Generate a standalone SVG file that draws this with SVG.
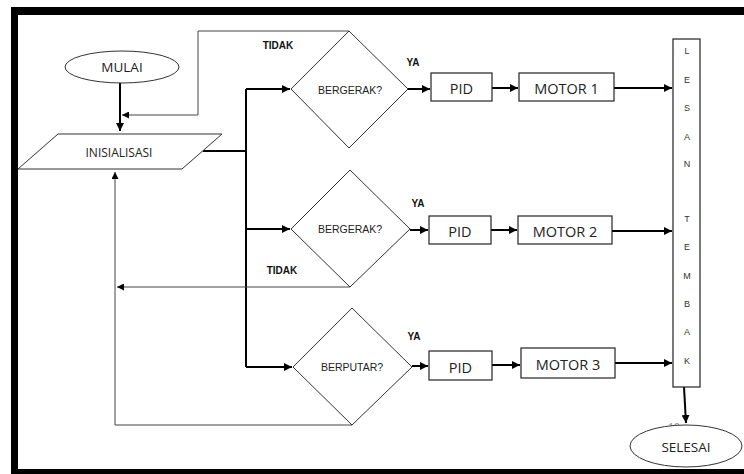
<svg xmlns="http://www.w3.org/2000/svg" width="744" height="474" viewBox="0 0 744 474">
<style>
.bg{fill:#fff}
.frame{fill:#000}
.shape{fill:#fff;stroke:#333;stroke-width:1}
.box{fill:#fff;stroke:#222;stroke-width:1.2}
.thin{fill:none;stroke:#444;stroke-width:1}
.thick{fill:none;stroke:#000;stroke-width:2}
.t{font-family:"Open Sans","Liberation Sans",sans-serif;fill:#222;text-anchor:middle;dominant-baseline:central}
.big{font-size:13.5px}
.box-t{font-size:14.5px}
.mid{font-size:12px}
.dia{font-family:"Liberation Sans",Arial,sans-serif;font-size:10.5px;fill:#222;text-anchor:middle;dominant-baseline:central}
.lbl{font-family:"Liberation Sans",Arial,sans-serif;font-size:10px;font-weight:bold;fill:#111;text-anchor:middle;dominant-baseline:central}
.let{font-family:"Liberation Sans",Arial,sans-serif;font-size:9px;fill:#333;text-anchor:middle;dominant-baseline:central}
</style>
<defs>
<marker id="ah" viewBox="0 0 10 10" refX="10" refY="5" markerWidth="4" markerHeight="4" orient="auto" markerUnits="strokeWidth">
<path d="M0,0 L10,5 L0,10 z" fill="#000"/>
</marker>
<marker id="ahs" viewBox="0 0 10 10" refX="10" refY="5" markerWidth="7" markerHeight="7" orient="auto" markerUnits="strokeWidth">
<path d="M0,0 L10,5 L0,10 z" fill="#000"/>
</marker>
</defs>
<rect class="bg" x="0" y="0" width="744" height="474"/>
<g id="frame">
<rect class="frame" x="11" y="7" width="733" height="8"/>
<rect class="frame" x="11" y="7" width="7" height="467"/>
<rect class="frame" x="11" y="469" width="733" height="5"/>
</g>
<g id="connectors">
<path class="thick" d="M120,83 V131" marker-end="url(#ah)"/>
<path class="thin" d="M349,31 H198 V115 H122" marker-end="url(#ahs)"/>
<path class="thick" d="M203,151 H246 M246,89 V367"/>
<path class="thick" d="M246,89 H290" marker-end="url(#ah)"/>
<path class="thick" d="M246,229 H290" marker-end="url(#ah)"/>
<path class="thick" d="M246,367 H292" marker-end="url(#ah)"/>
<path class="thin" d="M350,287 H117" marker-end="url(#ahs)"/>
<path class="thin" d="M352,425 H115 V172" marker-end="url(#ahs)"/>
<path class="thick" d="M408,89 H430" marker-end="url(#ah)"/>
<path class="thick" d="M410,230 H428" marker-end="url(#ah)"/>
<path class="thick" d="M412,366 H428" marker-end="url(#ah)"/>
<path class="thick" d="M492,88 H518" marker-end="url(#ah)"/>
<path class="thick" d="M491,230 H517" marker-end="url(#ah)"/>
<path class="thick" d="M492,365 H520" marker-end="url(#ah)"/>
<path class="thick" d="M614,88 H672" marker-end="url(#ah)"/>
<path class="thick" d="M612,231 H672" marker-end="url(#ah)"/>
<path class="thick" d="M615,363 H672" marker-end="url(#ah)"/>
<path class="thick" d="M684,387 L686,423" marker-end="url(#ah)"/>
<text class="lbl" x="278" y="45">TIDAK</text>
<text class="lbl" x="282" y="270">TIDAK</text>
<text class="lbl" x="413" y="62">YA</text>
<text class="lbl" x="418" y="203">YA</text>
<text class="lbl" x="414" y="336">YA</text>
</g>
<g id="mulai">
<ellipse class="shape" cx="122" cy="67" rx="57" ry="16"/>
<text class="t big" x="122" y="67">MULAI</text>
</g>
<g id="inisialisasi">
<polygon class="shape" points="58,134 222,134 182,169 18,169"/>
<text class="t mid" x="119" y="152">INISIALISASI</text>
</g>
<g id="decision1">
<polygon class="shape" points="349,31 408,89 349,148 291,89"/>
<text class="dia" x="350" y="90">BERGERAK?</text>
</g>
<g id="decision2">
<polygon class="shape" points="350,170 410,229 350,287 291,229"/>
<text class="dia" x="350" y="229">BERGERAK?</text>
</g>
<g id="decision3">
<polygon class="shape" points="352,308 412,367 352,425 293,367"/>
<text class="dia" x="352" y="367">BERPUTAR?</text>
</g>
<g id="pid1">
<rect class="box" x="431" y="73" width="61" height="28"/>
<text class="t box-t" x="461.5" y="88">PID</text>
</g>
<g id="pid2">
<rect class="box" x="429" y="216" width="62" height="28"/>
<text class="t box-t" x="460" y="231">PID</text>
</g>
<g id="pid3">
<rect class="box" x="429" y="351" width="63" height="29"/>
<text class="t box-t" x="460.5" y="367">PID</text>
</g>
<g id="motor1">
<rect class="box" x="519" y="73" width="95" height="28"/>
<text class="t box-t" x="566.5" y="88">MOTOR 1</text>
</g>
<g id="motor2">
<rect class="box" x="518" y="216" width="94" height="28"/>
<text class="t box-t" x="565" y="231">MOTOR 2</text>
</g>
<g id="motor3">
<rect class="box" x="521" y="348" width="94" height="30"/>
<text class="t box-t" x="568" y="364">MOTOR 3</text>
</g>
<g id="lesan-tembak">
<rect class="box" x="673" y="39" width="27" height="348"/>
<text class="let" x="687" y="51">L</text>
<text class="let" x="687" y="80">E</text>
<text class="let" x="687" y="108">S</text>
<text class="let" x="687" y="137">A</text>
<text class="let" x="687" y="164">N</text>
<text class="let" x="687" y="219">T</text>
<text class="let" x="687" y="247">E</text>
<text class="let" x="687" y="276">M</text>
<text class="let" x="687" y="304">B</text>
<text class="let" x="687" y="332">A</text>
<text class="let" x="687" y="361">K</text>
</g>
<g id="selesai">
<text class="t" x="674" y="427" style="font-size:10px;fill:#888">10</text>
<ellipse class="shape" cx="686" cy="446" rx="56" ry="21"/>
<text class="t big" x="686" y="447">SELESAI</text>
</g>
</svg>
